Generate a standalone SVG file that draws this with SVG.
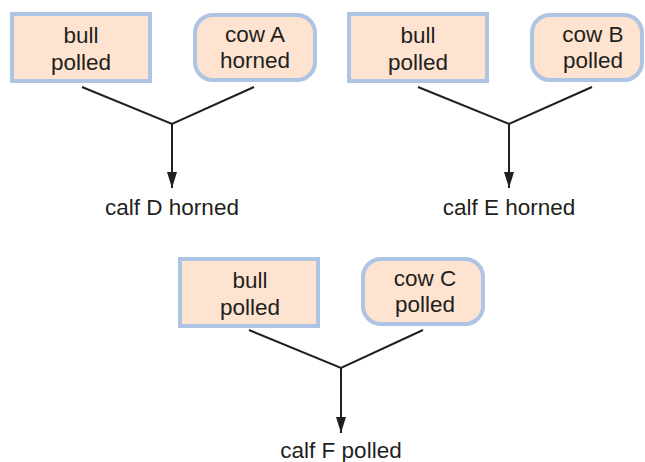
<svg xmlns="http://www.w3.org/2000/svg" width="645" height="462" viewBox="0 0 645 462">
<defs>
<style>
.box{fill:#fde3d0;stroke:#aec4e4;stroke-width:4}
.t{font-family:"Liberation Sans",Arial,sans-serif;font-size:22.5px;fill:#231f20;text-anchor:middle}
.c{fill:none;stroke:#231f20;stroke-width:2}
</style>
<marker id="ah" markerWidth="16" markerHeight="10" refX="16" refY="5" orient="auto" markerUnits="userSpaceOnUse" viewBox="0 0 16 10">
<path d="M0,0 L16,5 L0,10 Z" fill="#231f20"/>
</marker>
</defs>
<rect width="645" height="462" fill="#ffffff"/>
<g id="bull1"><rect class="box" x="12" y="14" width="138" height="67"/><text class="t" x="81" y="43">bull</text><text class="t" x="81" y="70">polled</text></g>
<g id="cowA"><rect class="box" x="195" y="15" width="120" height="65" rx="18"/><text class="t" x="255" y="42">cow A</text><text class="t" x="255" y="68">horned</text></g>
<g id="calfD"><text class="t" x="172" y="215">calf D horned</text></g>
<g id="bull2"><rect class="box" x="349" y="14" width="138" height="67"/><text class="t" x="418" y="43">bull</text><text class="t" x="418" y="70">polled</text></g>
<g id="cowB"><rect class="box" x="532" y="15" width="110" height="65" rx="18"/><text class="t" x="593" y="42">cow B</text><text class="t" x="593" y="68">polled</text></g>
<g id="calfE"><text class="t" x="509" y="215">calf E horned</text></g>
<g id="bull3"><rect class="box" x="180" y="259" width="138" height="67"/><text class="t" x="250" y="288">bull</text><text class="t" x="250" y="315">polled</text></g>
<g id="cowC"><rect class="box" x="363" y="259" width="120" height="65" rx="18"/><text class="t" x="425" y="286">cow C</text><text class="t" x="425" y="312">polled</text></g>
<g id="calfF"><text class="t" x="341" y="458">calf F polled</text></g>
<g id="connectors">
<polyline class="c" points="82,87 172,124 254,87"/>
<line class="c" x1="172" y1="124" x2="172" y2="188" marker-end="url(#ah)"/>
<polyline class="c" points="418,87 509,124 592,87"/>
<line class="c" x1="509" y1="124" x2="509" y2="188" marker-end="url(#ah)"/>
<polyline class="c" points="249,330 341,368 423,330"/>
<line class="c" x1="341" y1="368" x2="341" y2="433" marker-end="url(#ah)"/>
</g>
</svg>
